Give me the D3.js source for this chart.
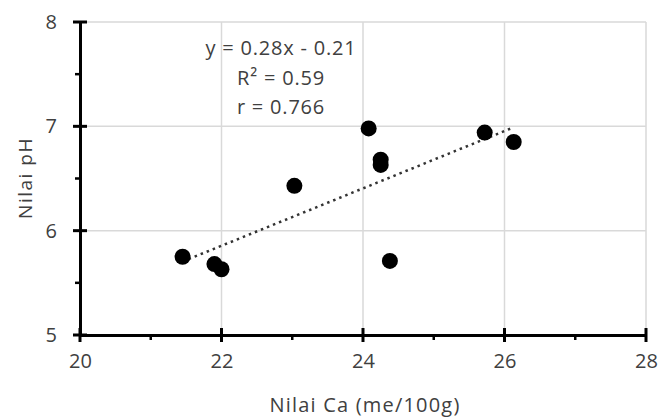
<!DOCTYPE html>
<html>
<head>
<meta charset="utf-8">
<script src="https://cdn.jsdelivr.net/npm/d3@7"></script>
<style>
  body { margin: 0; background: #fff; }
  text { font-family: "Open Sans", sans-serif; fill: #404040; }
</style>
</head>
<body>
<svg id="chart" width="660" height="418"></svg>
<script>
// values
const caValues = [21.45, 21.9, 22.0, 23.03, 24.08, 24.25, 24.25, 24.38, 25.72, 26.13];
const phValues = [5.75, 5.68, 5.63, 6.43, 6.98, 6.68, 6.63, 5.71, 6.94, 6.85];
const xTicks = [20, 22, 24, 26, 28];
const yTicks = [5, 6, 7, 8];
const xMinor = [21, 23, 25, 27];
const yMinor = [5.5, 6.5, 7.5];
const statLines = ["y = 0.28x - 0.21", "R² = 0.59", "r = 0.766"];

const svg = d3.select("#chart");
const margin = {left: 80, right: 14, top: 22, bottom: 83};
const width = +svg.attr("width");
const height = +svg.attr("height");

const x = d3.scaleLinear().domain([20, 28]).range([margin.left, width - margin.right]);
const y = d3.scaleLinear().domain([5, 8]).range([height - margin.bottom, margin.top]);

const points = caValues.map((c, i) => ({x: c, y: phValues[i]}));

// gridlines
const grid = svg.append("g").attr("class", "grid")
  .attr("stroke", "#d9d9d9")
  .attr("stroke-width", 1.5);

grid.selectAll("line.v")
  .data(xTicks.slice(1))
  .enter()
  .append("line")
  .attr("x1", d => x(d)).attr("x2", d => x(d))
  .attr("y1", y(5)).attr("y2", y(8));

grid.selectAll("line.h")
  .data(yTicks.slice(1))
  .enter()
  .append("line")
  .attr("x1", x(20)).attr("x2", x(28))
  .attr("y1", d => y(d)).attr("y2", d => y(d));

// least squares trend line
const mx = d3.mean(caValues);
const my = d3.mean(phValues);
const slope = d3.sum(points, p => (p.x - mx) * (p.y - my)) / d3.sum(points, p => (p.x - mx) ** 2);
const icpt = my - slope * mx;
const xr = d3.extent(caValues);

svg.append("line")
  .attr("x1", x(xr[0])).attr("y1", y(slope * xr[0] + icpt))
  .attr("x2", x(xr[1])).attr("y2", y(slope * xr[1] + icpt))
  .attr("stroke", "#333")
  .attr("stroke-width", 2.5)
  .attr("stroke-dasharray", "2.5,4");

// points
svg.append("g")
  .selectAll("circle")
  .data(points)
  .enter()
  .append("circle")
  .attr("cx", d => x(d.x))
  .attr("cy", d => y(d.y))
  .attr("r", 8)
  .attr("fill", "#000");

// axes
const xAxis = svg.append("g")
  .attr("transform", `translate(0,${y(5)})`)
  .call(d3.axisBottom(x).tickValues(xTicks).tickSize(0).tickPadding(19));
const yAxis = svg.append("g")
  .attr("transform", `translate(${x(20)},0)`)
  .call(d3.axisLeft(y).tickValues(yTicks).tickFormat(d3.format("d")).tickSize(0).tickPadding(23));

[xAxis, yAxis].forEach(a => {
  a.select(".domain").attr("stroke", "#000").attr("stroke-width", 3);
  a.selectAll("text").style("font-size", "20px").attr("fill", "#404040");
});

// major ticks crossing the axis, minor ones outside
svg.append("g").selectAll("line")
  .data(xTicks).enter().append("line")
  .attr("x1", d => x(d)).attr("x2", d => x(d))
  .attr("y1", y(5) - 7).attr("y2", y(5) + 7)
  .attr("stroke", "#000").attr("stroke-width", 3);
svg.append("g").selectAll("line")
  .data(xMinor).enter().append("line")
  .attr("x1", d => x(d)).attr("x2", d => x(d))
  .attr("y1", y(5)).attr("y2", y(5) + 5)
  .attr("stroke", "#000").attr("stroke-width", 2.5);
svg.append("g").selectAll("line")
  .data(yTicks).enter().append("line")
  .attr("x1", x(20) - 7).attr("x2", x(20) + 7)
  .attr("y1", d => y(d)).attr("y2", d => y(d))
  .attr("stroke", "#000").attr("stroke-width", 3);
svg.append("g").selectAll("line")
  .data(yMinor).enter().append("line")
  .attr("x1", x(20) - 5).attr("x2", x(20))
  .attr("y1", d => y(d)).attr("y2", d => y(d))
  .attr("stroke", "#000").attr("stroke-width", 2.5);

// equation box
svg.append("g")
  .selectAll("text")
  .data(statLines)
  .enter()
  .append("text")
  .attr("x", 281)
  .attr("y", (d, i) => 55 + i * 29.5)
  .attr("text-anchor", "middle")
  .attr("letter-spacing", "0.8px")
  .style("font-size", "20px")
  .text(d => d);

// axis titles
svg.append("text")
  .attr("x", 365)
  .attr("y", 412)
  .attr("text-anchor", "middle")
  .attr("letter-spacing", "1.2px")
  .style("font-size", "20px")
  .text("Nilai Ca (me/100g)");

svg.append("text")
  .attr("transform", `translate(32,178) rotate(-90)`)
  .attr("text-anchor", "middle")
  .attr("letter-spacing", "1.5px")
  .style("font-size", "19px")
  .text("Nilai pH");
</script>
</body>
</html>
